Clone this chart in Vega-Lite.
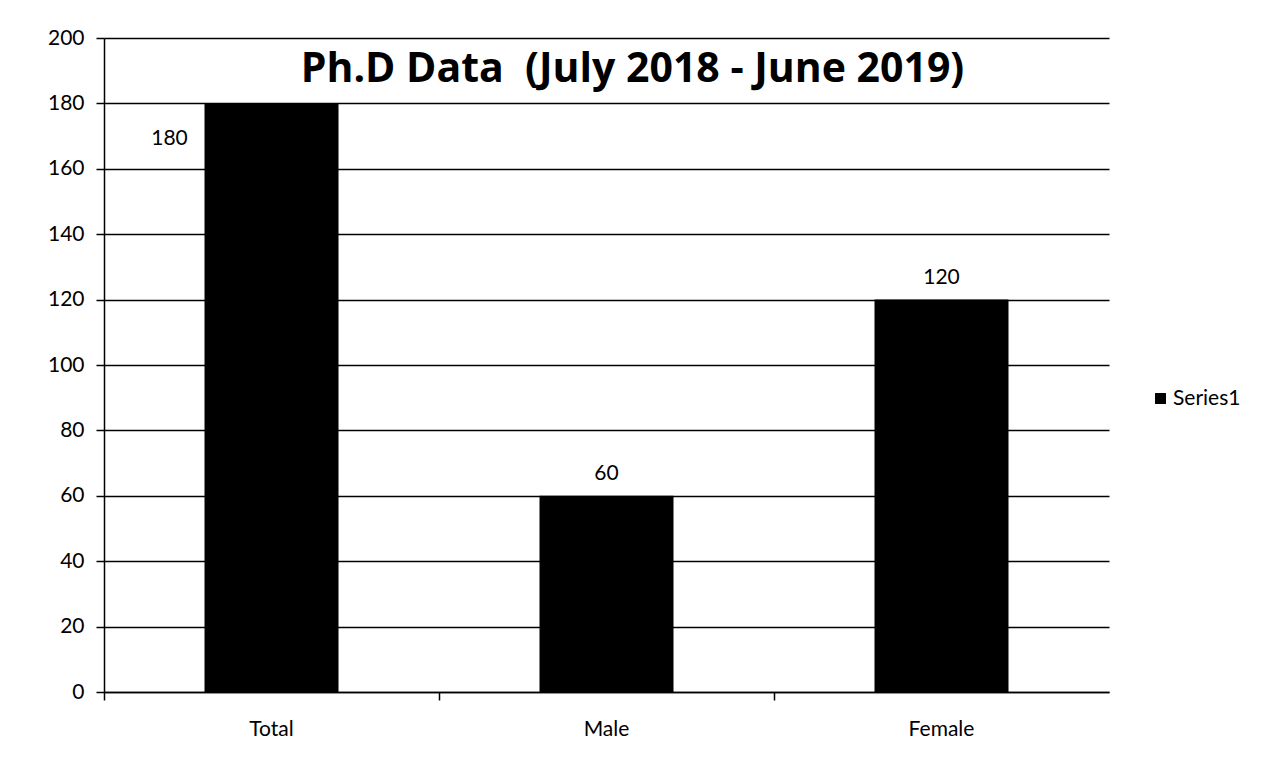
{
  "$schema": "https://vega.github.io/schema/vega-lite/v6.json",
  "width": 1005,
  "height": 654,
  "autosize": "none",
  "padding": {"left": 104, "top": 38, "right": 160, "bottom": 90},
  "background": "white",
  "data": {"values": [
    {"category": "Total", "value": 180, "series": "Series1"},
    {"category": "Male", "value": 60, "series": "Series1"},
    {"category": "Female", "value": 120, "series": "Series1"}
  ]},
  "title": {
    "text": "Ph.D Data \u00a0(July 2018 - June 2019)",
    "font": "Open Sans",
    "fontSize": 41,
    "fontWeight": "bold",
    "color": "black",
    "anchor": "middle",
    "orient": "top",
    "baseline": "top",
    "offset": -64,
    "dx": 26
  },
  "encoding": {
    "x": {
      "field": "category",
      "type": "nominal",
      "sort": ["Total", "Male", "Female"],
      "scale": {"paddingInner": 0.6, "paddingOuter": 0.3},
      "axis": {
        "title": null,
        "labelAngle": 0,
        "labelFont": "Lato",
        "labelFontSize": 21,
        "labelColor": "black",
        "labelPadding": 18,
        "domainColor": "black",
        "domainWidth": 1.5,
        "tickColor": "black",
        "tickSize": 8,
        "tickWidth": 1.5,
        "bandPosition": -0.75,
        "grid": false
      }
    },
    "y": {
      "field": "value",
      "type": "quantitative",
      "scale": {"domain": [0, 200]},
      "axis": {
        "title": null,
        "values": [0, 20, 40, 60, 80, 100, 120, 140, 160, 180, 200],
        "labelFont": "Lato",
        "labelFontSize": 21,
        "labelColor": "black",
        "labelPadding": 12,
        "domainColor": "black",
        "domainWidth": 1.5,
        "tickColor": "black",
        "tickSize": 8,
        "tickWidth": 1.5,
        "grid": true,
        "gridColor": "black",
        "gridWidth": 1.3,
        "gridOpacity": 1
      }
    }
  },
  "layer": [
    {
      "mark": {"type": "bar"},
      "encoding": {
        "color": {
          "field": "series",
          "type": "nominal",
          "scale": {"range": ["black"]},
          "legend": {
            "title": null,
            "orient": "none",
            "legendX": 1046,
            "legendY": 350,
            "symbolType": "square",
            "symbolSize": 120,
            "symbolOffset": 0,
            "labelOffset": 2,
            "labelFont": "Lato",
            "labelFontSize": 21,
            "labelColor": "black"
          }
        }
      }
    },
    {
      "transform": [{"filter": "datum.category === 'Total'"}],
      "mark": {"type": "text", "font": "Lato", "fontSize": 21, "color": "black", "dx": -102, "dy": 36, "baseline": "middle"},
      "encoding": {"text": {"field": "value", "type": "quantitative"}}
    },
    {
      "transform": [{"filter": "datum.category !== 'Total'"}],
      "mark": {"type": "text", "font": "Lato", "fontSize": 21, "color": "black", "dy": -22, "baseline": "middle"},
      "encoding": {"text": {"field": "value", "type": "quantitative"}}
    }
  ],
  "config": {"view": {"stroke": null}}
}
